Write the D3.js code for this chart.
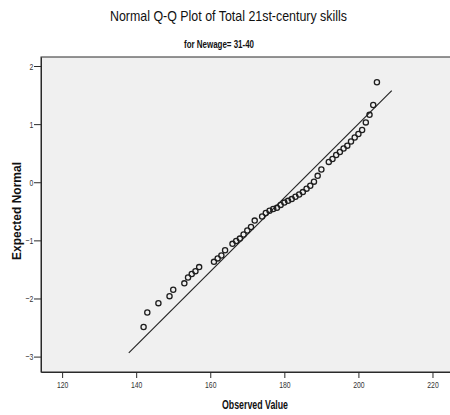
<!DOCTYPE html>
<html>
<head>
<meta charset="utf-8">
<script src="https://cdn.jsdelivr.net/npm/d3@7"></script>
<style>
  html, body { margin: 0; padding: 0; background: #fff; }
  svg { display: block; font-family: "Liberation Sans", Arial, sans-serif; }
</style>
</head>
<body>
<svg id="chart" width="450" height="415"></svg>
<script>
// Observed scores and their expected normal quantiles
const observed = [142, 143, 146, 149, 150, 153, 154, 155, 156, 157,
                  161, 162, 163, 164, 166, 167, 168, 169, 170, 171,
                  172, 174, 175, 176, 177, 178, 179, 180, 181, 182,
                  183, 184, 185, 186, 187, 188, 189, 190, 192, 193,
                  194, 195, 196, 197, 198, 199, 200, 201, 202, 203,
                  204, 205];
const expected = [-2.49, -2.24, -2.08, -1.96, -1.85, -1.74, -1.64, -1.58, -1.53, -1.46,
                  -1.37, -1.31, -1.26, -1.17, -1.06, -1.01, -0.97, -0.90, -0.83, -0.77,
                  -0.66, -0.59, -0.53, -0.49, -0.46, -0.44, -0.39, -0.35, -0.32, -0.29,
                  -0.25, -0.21, -0.17, -0.11, -0.06, 0.01, 0.11, 0.22, 0.35, 0.40,
                  0.47, 0.52, 0.58, 0.63, 0.70, 0.77, 0.83, 0.90, 1.03, 1.16,
                  1.33, 1.72];

// Reference normal line: z = (x - mean) / sd
const lineMean = 184.2;
const lineSd = 15.73;
const lineRange = [138, 209];

const xTicks = [120, 140, 160, 180, 200, 220];
const yTicks = [-3, -2, -1, 0, 1, 2];
const xDomain = [114.3, 225.0];
const yDomain = [-3.265, 2.155];

const titleText = "Normal Q-Q Plot of Total 21st-century skills";
const subtitleText = "for Newage= 31-40";
const xTitle = "Observed Value";
const yTitle = "Expected Normal";

const svg = d3.select("#chart");
const plot = { left: 41, top: 57, right: 451, bottom: 372 };

const x = d3.scaleLinear().domain(xDomain).range([plot.left, plot.right]);
const y = d3.scaleLinear().domain(yDomain).range([plot.bottom, plot.top]);

// narrow the horizontal text run
function squeeze(sel, factor) {
  sel.each(function () {
    const len = this.getComputedTextLength();
    d3.select(this).attr("textLength", len * factor).attr("lengthAdjust", "spacingAndGlyphs");
  });
}

// plot background
svg.append("rect")
  .attr("x", plot.left).attr("y", plot.top)
  .attr("width", plot.right - plot.left).attr("height", plot.bottom - plot.top)
  .attr("fill", "#f0f0f0").attr("stroke", "#2a2a2a").attr("stroke-width", 1);

// axes
const xAxis = svg.append("g")
  .attr("transform", `translate(0,${plot.bottom})`)
  .call(d3.axisBottom(x).tickValues(xTicks).tickFormat(d3.format("d"))
    .tickSize(6).tickPadding(3.7).tickSizeOuter(0));
const yAxis = svg.append("g")
  .attr("transform", `translate(${plot.left},0)`)
  .call(d3.axisLeft(y).tickValues(yTicks).tickFormat(d3.format("d"))
    .tickSize(7).tickPadding(0.6).tickSizeOuter(0));

[xAxis, yAxis].forEach(g => {
  g.select(".domain").attr("stroke", "#2a2a2a");
  g.selectAll(".tick line").attr("stroke", "#2a2a2a");
  g.selectAll(".tick text")
    .attr("font-family", "'Liberation Sans', Arial, sans-serif")
    .attr("font-size", 9.5).attr("fill", "#333");
  squeeze(g.selectAll(".tick text"), 0.72);
});

// reference line
svg.append("line")
  .attr("x1", x(lineRange[0])).attr("y1", y((lineRange[0] - lineMean) / lineSd))
  .attr("x2", x(lineRange[1])).attr("y2", y((lineRange[1] - lineMean) / lineSd))
  .attr("stroke", "#262626").attr("stroke-width", 1.2);

// points
svg.append("g").selectAll("circle")
  .data(observed.map((v, i) => ({ v, z: expected[i] })))
  .join("circle")
  .attr("cx", d => x(d.v)).attr("cy", d => y(d.z))
  .attr("r", 2.6)
  .attr("fill", "none").attr("stroke", "#1e1e1e").attr("stroke-width", 1.3);

// titles
svg.append("text")
  .attr("x", 228.5).attr("y", 21).attr("text-anchor", "middle")
  .attr("font-size", 15).attr("fill", "#111")
  .attr("textLength", 237).attr("lengthAdjust", "spacingAndGlyphs")
  .text(titleText);

svg.append("text")
  .attr("x", 219).attr("y", 48).attr("text-anchor", "middle")
  .attr("font-size", 10.5).attr("font-weight", "bold").attr("fill", "#111")
  .attr("textLength", 70).attr("lengthAdjust", "spacingAndGlyphs")
  .text(subtitleText);

svg.append("text")
  .attr("x", 255).attr("y", 409).attr("text-anchor", "middle")
  .attr("font-size", 12).attr("font-weight", "bold").attr("fill", "#111")
  .attr("textLength", 66).attr("lengthAdjust", "spacingAndGlyphs")
  .text(xTitle);

svg.append("text")
  .attr("transform", "translate(21,211) rotate(-90)")
  .attr("text-anchor", "middle")
  .attr("font-size", 12).attr("font-weight", "bold").attr("fill", "#111")
  .text(yTitle);
</script>
</body>
</html>
